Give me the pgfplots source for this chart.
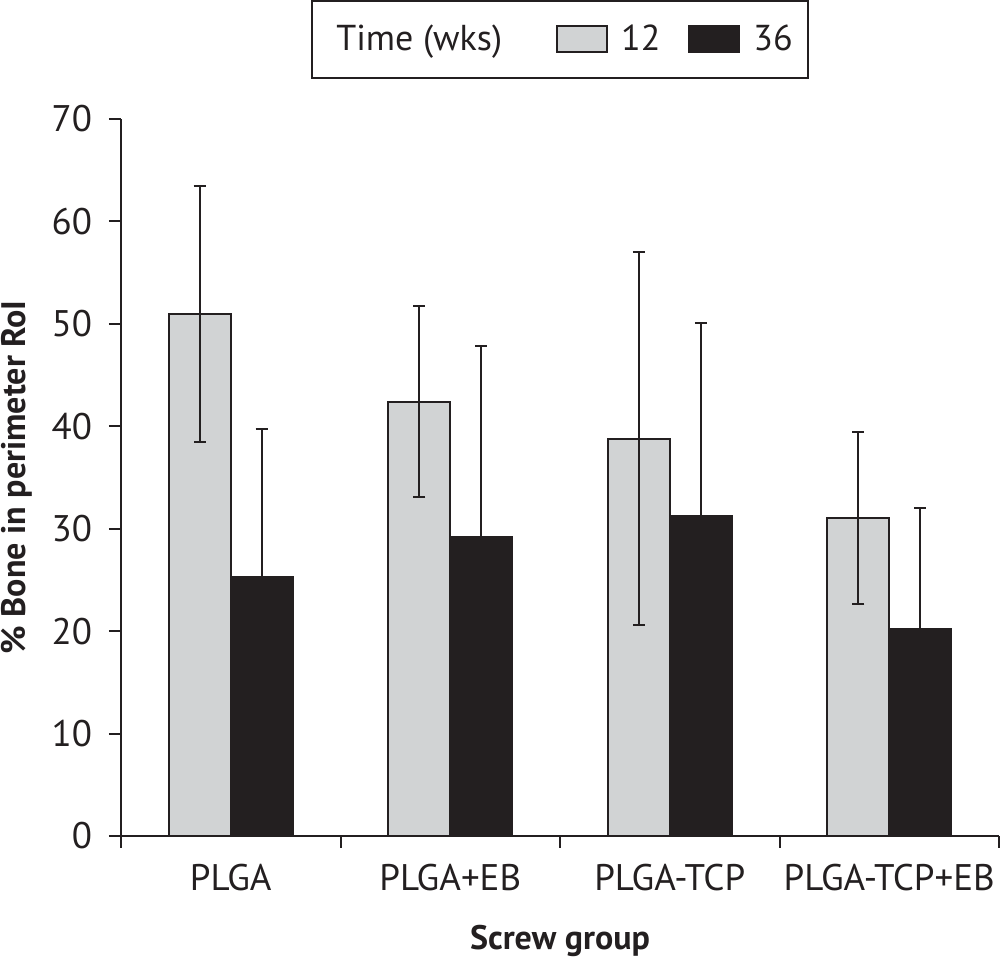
\documentclass[border=0pt]{standalone}
\usepackage{pgfplots}
\pgfplotsset{compat=1.18}
\usepackage{fontspec}
\setmainfont{PT Sans}
\usetikzlibrary{calc}
\definecolor{ink}{HTML}{231F20}
\definecolor{lightbar}{HTML}{D1D3D4}
\newcommand{\chartfont}{\fontsize{17}{20}\selectfont}
\newcommand{\tickfont}{\fontsize{18.5}{22}\selectfont}
\newcommand{\legfont}{\fontsize{18}{22}\selectfont}

\pgfplotstableread{
x y err
0 51.0 12.5
1 42.4 9.35
2 38.8 18.2
3 31.0 8.4
}\wkstwelve
\pgfplotstableread{
x y err
0 25.3 14.4
1 29.2 18.6
2 31.2 18.9
3 20.2 11.8
}\wksthirtysix

\pgfplotsset{
  myerr/.style={
    error bars/y dir=both,
    error bars/y explicit,
    error bars/error bar style={line width=1pt, ink},
    error bars/error mark options={rotate=90, mark size=3pt, line width=1pt, ink},
  }
}

\begin{document}
\begin{tikzpicture}
\begin{axis}[
  name=ax,
  scale only axis, width=439pt, height=358.5pt,
  xmin=-0.5, xmax=3.5, ymin=0, ymax=70,
  axis lines*=left,
  axis line style={ink, line width=1pt, -},
  ytick={0,10,...,70},
  xtick={-0.5,0.5,1.5,2.5,3.5},
  x tick label as interval,
  xticklabels={PLGA,PLGA+EB,PLGA-TCP,PLGA-TCP+EB},
  tick align=outside, major tick length=6pt,
  tick style={ink, line width=1pt},
  tick label style={font=\tickfont, text=ink},
  yticklabel style={xshift=-5pt},
  xticklabel style={yshift=-4.75pt},
  /pgf/number format/assume math mode=true,
  xlabel={\bfseries Screw group},
  ylabel={\bfseries \% Bone in perimeter RoI},
  every axis x label/.style={at={(rel axis cs:0.5,-0.159)}, anchor=base, font=\chartfont, text=ink},
  every axis y label/.style={at={(rel axis cs:-0.1093,0.5)}, rotate=90, anchor=base, font=\chartfont, text=ink},
  ybar=0pt, bar width=31pt,
  legend columns=3,
  legend style={at={(rel axis cs:0.5,1.111)}, anchor=center, draw=ink, line width=1pt,
    font=\legfont, text=ink, inner xsep=5.5pt, inner ysep=10.25pt,
    /tikz/every even column/.append style={column sep=12pt},
    /tikz/every odd column/.append style={column sep=4.5pt}},
]
\addlegendimage{empty legend}
\addlegendentry{Time (wks)\hspace{13pt}\mbox{}}
\addplot[fill=lightbar, draw=ink, line width=1pt, myerr,
  legend image code/.code={\draw[fill=lightbar, draw=ink, line width=1pt] (0pt,-6.5pt) rectangle (25pt,6.5pt);}]
  table[x=x, y=y, y error=err] {\wkstwelve};
\addlegendentry{12}
\addplot[fill=ink, draw=ink, line width=1pt, myerr,
  legend image code/.code={\draw[fill=ink, draw=ink, line width=1pt] (0pt,-6.5pt) rectangle (25pt,6.5pt);}]
  table[x=x, y=y, y error=err] {\wksthirtysix};
\addlegendentry{36}
\end{axis}
\pgfresetboundingbox
\path[use as bounding box] ($(ax.south west)+(-60.5pt,-60.5pt)$) rectangle ($(ax.north east)+(1pt,59.5pt)$);
\end{tikzpicture}
\end{document}
